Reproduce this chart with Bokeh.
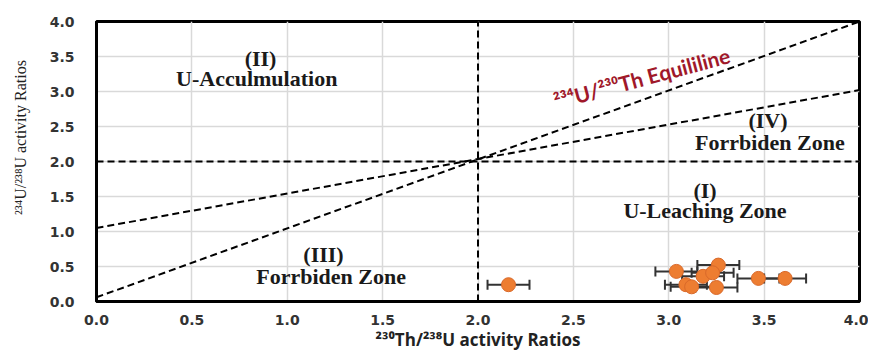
from bokeh.plotting import figure
from bokeh.models import Whisker, ColumnDataSource, Label, Range1d, FixedTicker, CustomJSTickFormatter
from bokeh.embed import file_html
from bokeh.resources import INLINE

# --- data ---
th_u = [2.16, 3.04, 3.26, 3.18, 3.23, 3.09, 3.12, 3.25, 3.47, 3.61]
u_u = [0.24, 0.43, 0.52, 0.36, 0.41, 0.24, 0.21, 0.20, 0.33, 0.33]
th_err = [0.11, 0.11, 0.11, 0.11, 0.11, 0.11, 0.11, 0.11, 0.11, 0.11]

equi_x = [0.0, 4.0]
equi_y = [0.06, 4.0]
forb_x = [0.0, 4.0]
forb_y = [1.05, 3.02]
ticks = [0.0, 0.5, 1.0, 1.5, 2.0, 2.5, 3.0, 3.5, 4.0]

zone_labels = ["(II)", "U-Acculmulation", "(III)", "Forrbiden Zone", "(IV)", "Forrbiden Zone", "(I)", "U-Leaching Zone"]
zone_x = [0.86, 0.84, 1.19, 1.23, 3.52, 3.53, 3.19, 3.19]
zone_y = [3.47, 3.19, 0.67, 0.36, 2.59, 2.27, 1.59, 1.30]

p = figure(width=868, height=353, output_backend="svg", toolbar_location=None,
           x_range=Range1d(0, 4), y_range=Range1d(0, 4),
           min_border_left=96, min_border_right=9, min_border_top=21, min_border_bottom=52)

p.outline_line_color = "black"
p.outline_line_width = 3

for ax in (p.xaxis[0], p.yaxis[0]):
    ax.ticker = FixedTicker(ticks=ticks)
    ax.axis_line_color = "black"
    ax.axis_line_width = 3
    ax.major_tick_line_color = None
    ax.minor_tick_line_color = None
    ax.major_label_text_font = "DejaVu Sans"
    ax.major_label_text_font_style = "bold"
    ax.major_label_text_font_size = "14px"
    ax.major_label_text_color = "#333333"
    ax.formatter = CustomJSTickFormatter(code="return tick.toFixed(1);")

p.xaxis.major_label_standoff = 7
p.yaxis.major_label_standoff = 16

p.xaxis.axis_label = "²³⁰Th/²³⁸U activity Ratios"
p.xaxis.axis_label_text_font = "Open Sans"
p.xaxis.axis_label_text_font_style = "bold"
p.xaxis.axis_label_text_font_size = "17px"
p.xaxis.axis_label_text_color = "#222222"
p.xaxis.axis_label_standoff = 0

p.yaxis.axis_label = "\u00a0" * 12 + "²³⁴U/²³⁸U activity Ratios"
p.yaxis.axis_label_text_font = "Liberation Sans Narrow"
p.yaxis.axis_label_text_font_style = "normal"
p.yaxis.axis_label_text_font_size = "16px"
p.yaxis.axis_label_text_color = "#222222"
p.yaxis.axis_label_standoff = 18

p.grid.grid_line_color = "#d9d9d9"
p.grid.grid_line_width = 1.5
p.xgrid.ticker = FixedTicker(ticks=ticks)
p.ygrid.ticker = FixedTicker(ticks=ticks)

# reference lines
dash = "7 4"
p.line(equi_x, equi_y, line_color="black", line_width=2, line_dash=dash)
p.line(forb_x, forb_y, line_color="black", line_width=2, line_dash=dash)
p.line([2, 2], [0, 4], line_color="black", line_width=2, line_dash=dash)
p.line([0, 4], [2, 2], line_color="black", line_width=2, line_dash=dash)

# zone labels
zsrc = ColumnDataSource(dict(x=zone_x, y=zone_y, t=zone_labels))
p.text(x="x", y="y", text="t", source=zsrc, text_align="center", text_baseline="middle",
       text_font={"value": "Liberation Serif"}, text_font_style="bold",
       text_font_size="22px", text_color="#1a1a1a")

p.add_layout(Label(x=2.40, y=2.86, text="²³⁴U/²³⁰Th  Equililine", angle=0.262,
                   text_align="left", text_baseline="alphabetic",
                   text_font="Lato", text_font_style="bold", text_font_size="21px",
                   text_color="#A0182A"))

# data
lower = [a - e for a, e in zip(th_u, th_err)]
upper = [a + e for a, e in zip(th_u, th_err)]
src = ColumnDataSource(dict(x=th_u, y=u_u, lower=lower, upper=upper))
w = Whisker(source=src, base="y", lower="lower", upper="upper", dimension="width",
            line_color="#333333", line_width=2)
for h in (w.upper_head, w.lower_head):
    h.size = 10
    h.line_color = "#333333"
    h.line_width = 2
p.add_layout(w)
p.scatter(x="x", y="y", source=src, size=14, fill_color="#ED7D31", line_color="#D9692A", line_width=1)

open("out.html", "w").write(file_html(p, INLINE))
